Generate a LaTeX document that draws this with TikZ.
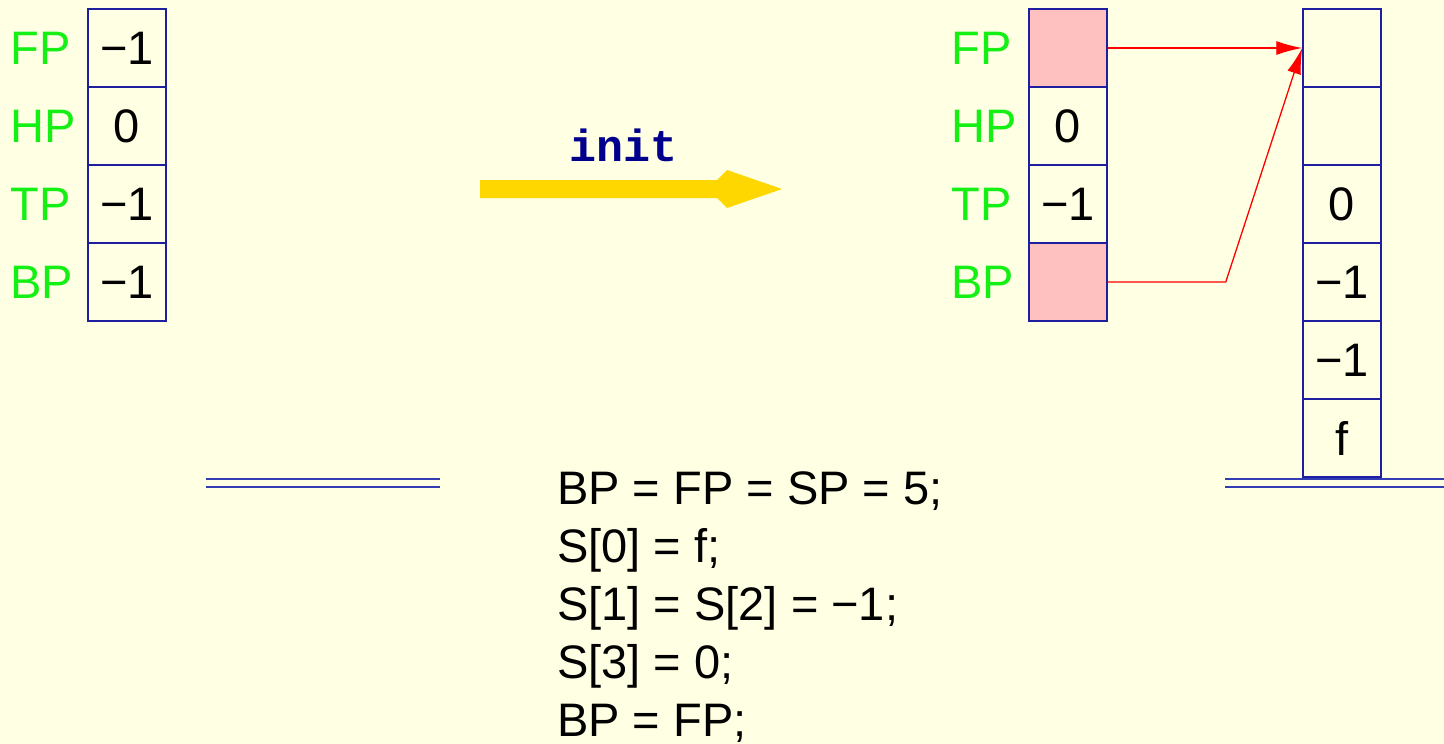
\documentclass[tikz,border=0pt]{standalone}
\usepackage{fontspec}
\setmainfont{Liberation Sans}
\newfontfamily\initfont{Liberation Mono}
\usepackage{xcolor}
\usetikzlibrary{calc}
\usetikzlibrary{arrows.meta}

\definecolor{paper}{RGB}{255,255,228}
\definecolor{regblue}{RGB}{30,30,160}
\definecolor{reggreen}{RGB}{20,240,20}
\definecolor{ptrpink}{RGB}{255,192,192}
\definecolor{initgold}{RGB}{255,215,0}
\definecolor{initblue}{RGB}{0,0,140}
\definecolor{floorblue}{RGB}{50,60,180}

\begin{document}
\begin{tikzpicture}[x=1pt, y=-1pt,
    cell/.style={draw=regblue, line width=1.5pt, minimum width=78pt, minimum height=78pt,
                 inner sep=0pt, font=\fontsize{47}{56}\selectfont},
    ptr/.style={cell, fill=ptrpink},
    reg/.style={text=reggreen, inner sep=0pt, anchor=west, font=\fontsize{47}{56}\selectfont},
    link/.style={red, line width=1.3pt, -{Latex[length=26pt,width=14pt]}},
    floor/.style={draw=floorblue, line width=2pt, double=paper, double distance=6pt}]

    % Page background
    \fill[paper] (0,0) rectangle (1444,744);
    \useasboundingbox (0,0) rectangle (1444,744);

    % Registers before init
    \node[cell] (oldfp) at (127,48) {−1};
    \node[cell] (oldhp) at (127,126) {0};
    \node[cell] (oldtp) at (127,204) {−1};
    \node[cell] (oldbp) at (127,282) {−1};
    \node[reg] (oldfplbl) at ([xshift=-77pt]oldfp.west) {FP};
    \node[reg] (oldhplbl) at ([xshift=-77pt]oldhp.west) {HP};
    \node[reg] (oldtplbl) at ([xshift=-77pt]oldtp.west) {TP};
    \node[reg] (oldbplbl) at ([xshift=-77pt]oldbp.west) {BP};

    % The init step
    \fill[initgold] (480,180) -- (717,180) -- (727,170) -- (782,189)
                    -- (727,208) -- (717,198) -- (480,198) -- cycle;
    \node[anchor=base, inner sep=0pt, text=initblue,
          font=\initfont\bfseries\fontsize{45}{54}\selectfont] (init) at (624,161) {init};

    % Registers after init
    \node[ptr]  (newfp) at (1068,48) {};
    \node[cell] (newhp) at (1068,126) {0};
    \node[cell] (newtp) at (1068,204) {−1};
    \node[ptr]  (newbp) at (1068,282) {};
    \node[reg] (newfplbl) at ([xshift=-77pt]newfp.west) {FP};
    \node[reg] (newhplbl) at ([xshift=-77pt]newhp.west) {HP};
    \node[reg] (newtplbl) at ([xshift=-77pt]newtp.west) {TP};
    \node[reg] (newbplbl) at ([xshift=-77pt]newbp.west) {BP};

    % Stack, S[0] at the bottom
    \node[cell] (s5) at (1342,48) {};
    \node[cell] (s4) at (1342,126) {};
    \node[cell] (s3) at (1342,204) {0};
    \node[cell] (s2) at (1342,282) {−1};
    \node[cell] (s1) at (1342,360) {−1};
    \node[cell] (s0) at (1342,438) {f};

    % FP and BP both point to S[5]
    \coordinate (bpbend) at ($(newbp.east)+(118,0)$);
    \draw[link] (newfp.east) -- (s5.west);
    \draw[link] (newbp.east) -- (bpbend) -- (s5.west);

    % Floor lines
    \draw[floor] (206,483) -- (440,483);
    \draw[floor] (1225,483) -- (1444,483);

    % Code of init
    \node[anchor=north west, inner sep=0pt, align=left,
          font=\fontsize{47}{58}\selectfont] (code) at (557,471)
        {BP = FP = SP = 5;\\ S[0] = f;\\ S[1] = S[2] = −1;\\ S[3] = 0;\\ BP = FP;};
\end{tikzpicture}
\end{document}
